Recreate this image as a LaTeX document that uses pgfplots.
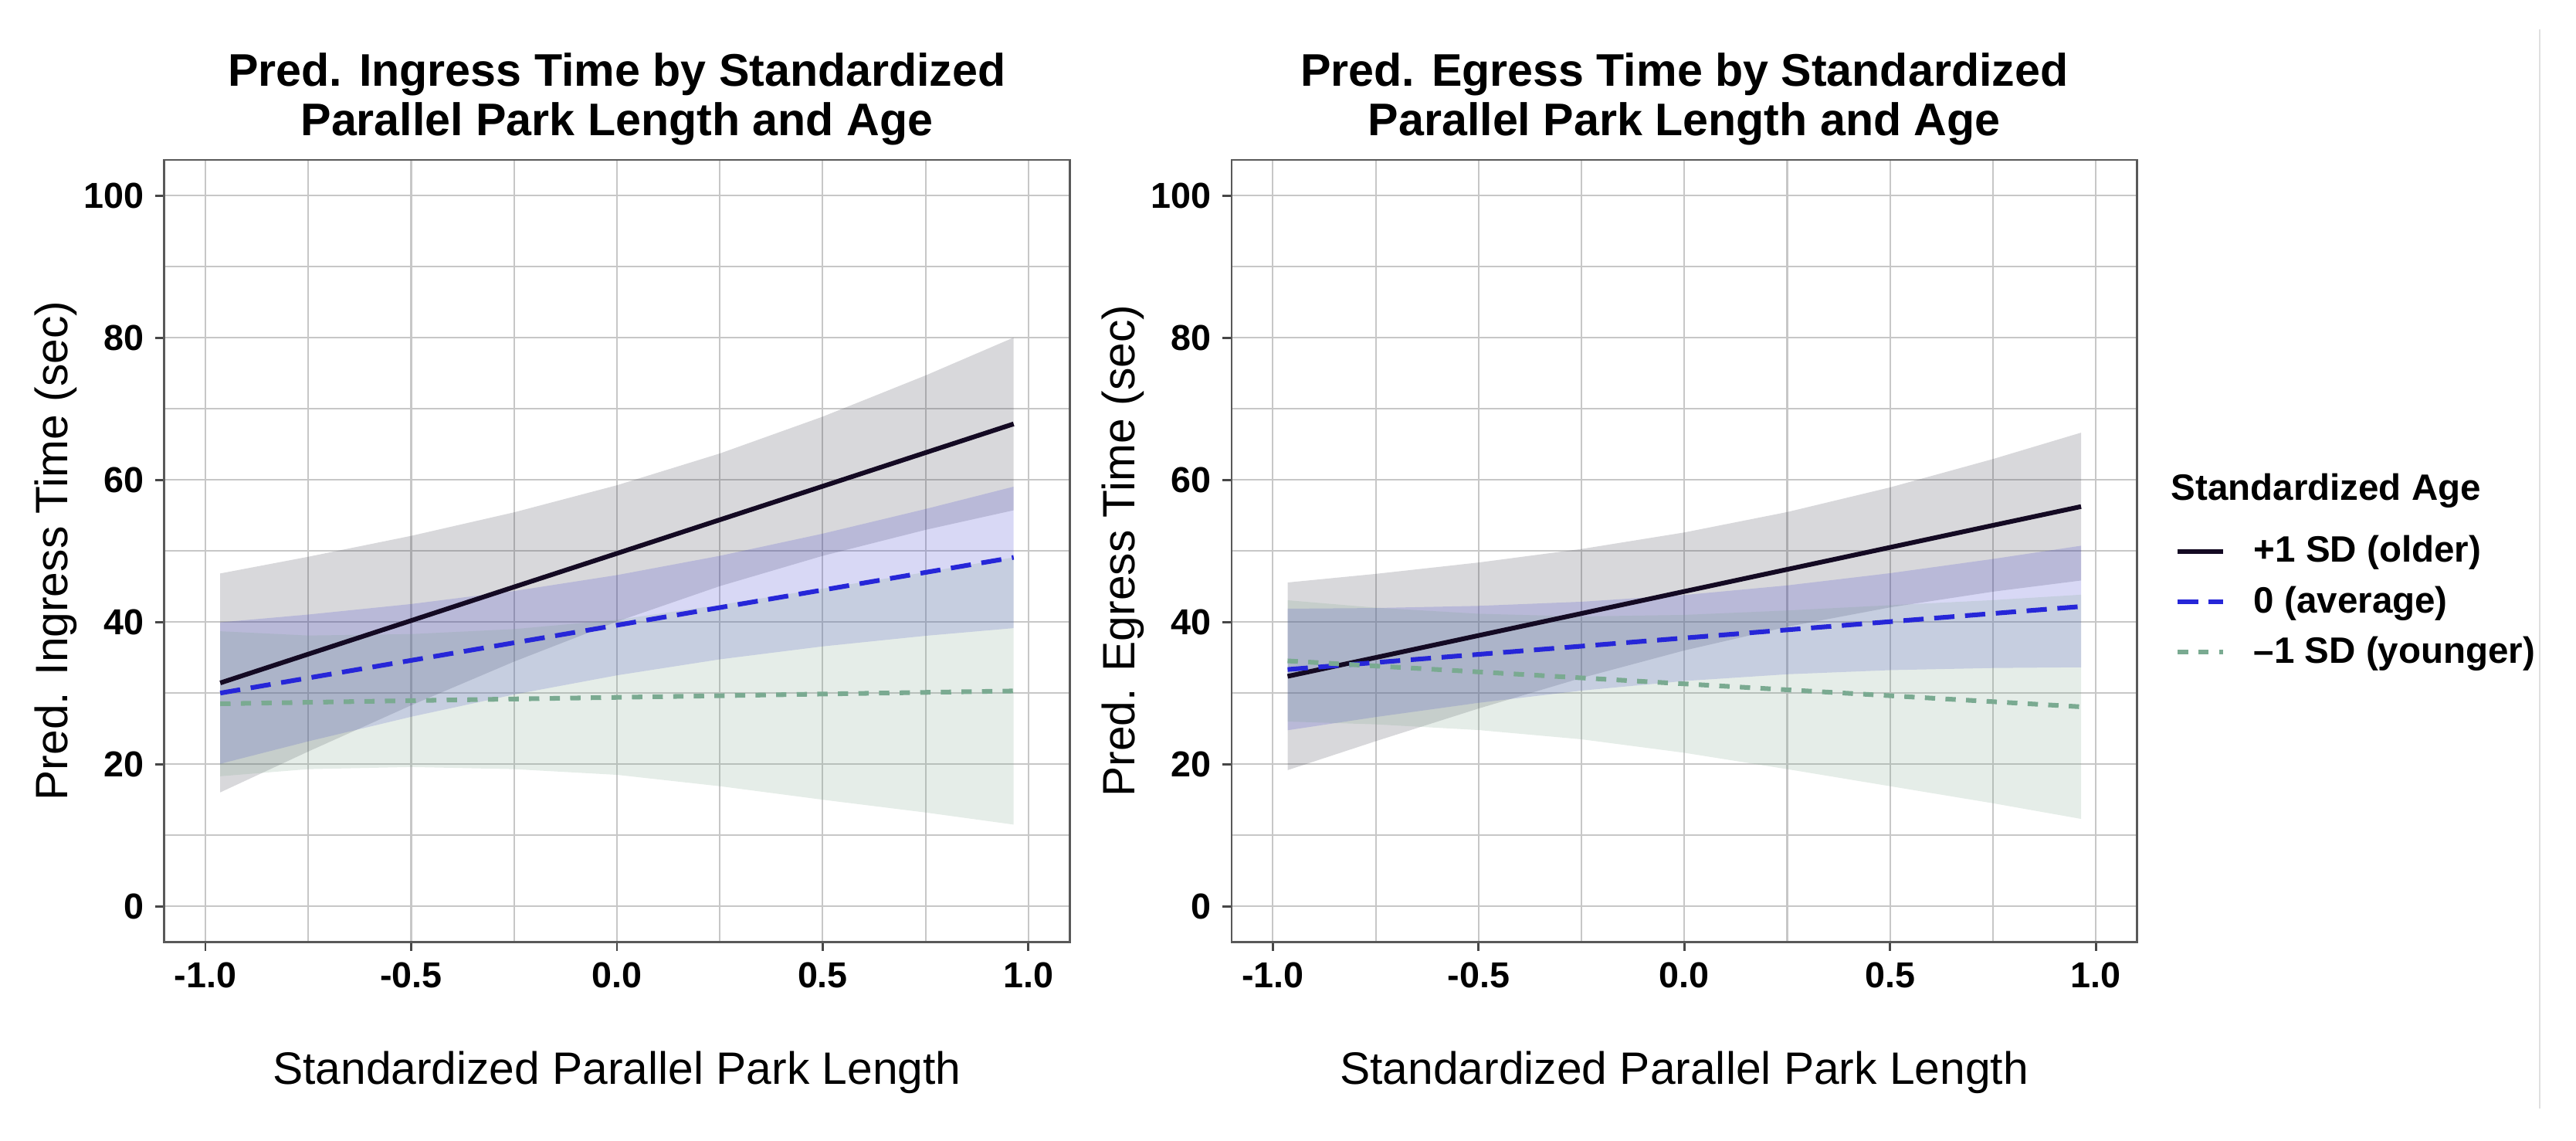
\documentclass[border=0pt]{standalone}
\usepackage{fontspec}
\setmainfont{Liberation Sans}
\usepackage{pgfplots}
\pgfplotsset{compat=1.18}
\usepackage{pgfplotstable}
\usepgfplotslibrary{fillbetween}
\definecolor{oldc}{RGB}{20,10,35}
\definecolor{avgc}{RGB}{38,38,216}
\definecolor{youc}{RGB}{122,170,145}
\definecolor{oldf}{RGB}{60,60,75}
\definecolor{avgf}{RGB}{60,60,205}
\definecolor{youf}{RGB}{125,165,140}

\pgfplotstableread{
x      cO     lO     uO     cA     lA     uA     cY     lY     uY
-0.964 31.43  16.03  46.83  30.00  20.05  39.95  28.50  18.3   38.7
-0.75  35.48  21.78  49.18  32.13  23.21  41.05  28.70  19.3   38.1
-0.5   40.20  28.28  52.12  34.60  26.67  42.53  28.94  19.6   38.3
-0.25  44.93  34.43  55.43  37.08  29.80  44.36  29.17  19.3   39.0
0      49.65  40.06  59.24  39.55  32.50  46.60  29.40  18.5   40.3
0.25   54.38  45.05  63.71  42.03  34.75  49.31  29.63  16.9   42.4
0.5    59.10  49.31  68.89  44.50  36.57  52.43  29.87  15.0   44.7
0.75   63.83  52.97  74.69  46.98  38.06  55.90  30.10  13.2   47.0
0.964  67.87  55.72  80.02  49.09  39.14  59.04  30.30  11.5   49.1
}\ingress

\pgfplotstableread{
x      cO     lO     uO     cA     lA     uA     cY     lY     uY
-0.964 32.36  19.16  45.56  33.32  24.77  41.87  34.53  26.0   43.06
-0.75  35.00  23.23  46.77  34.30  26.63  41.97  33.81  25.6   42.02
-0.5   38.10  27.83  48.37  35.45  28.63  42.27  32.98  24.8   41.16
-0.25  41.20  32.13  50.27  36.60  30.35  42.85  32.14  23.5   40.78
0      44.30  36.00  52.60  37.75  31.70  43.80  31.30  21.6   41.00
0.25   47.40  39.33  55.47  38.90  32.65  45.15  30.46  19.3   41.62
0.5    50.50  42.06  58.94  40.05  33.23  46.87  29.63  16.9   42.36
0.75   53.60  44.27  62.93  41.20  33.53  48.87  28.79  14.5   43.08
0.964  56.24  45.84  66.64  42.18  33.63  50.73  28.07  12.3   43.84
}\egress

\pgfplotsset{
  panel/.style={
    scale only axis, width=281.4pt, height=242.9pt,
    xmin=-1.1, xmax=1.1, ymin=-5, ymax=105,
    xtick={-1,-0.5,0,0.5,1}, xticklabels={-1.0,-0.5,0.0,0.5,1.0},
    ytick={0,20,40,60,80,100},
    minor xtick={-0.75,-0.25,0.25,0.75}, minor ytick={10,30,50,70,90},
    grid=both,
    major grid style={black!22, line width=0.5pt},
    minor grid style={black!22, line width=0.5pt},
    axis line style={black!65, line width=0.65pt},
    tick align=outside, xtick pos=bottom, ytick pos=left,
    major tick length=2.8pt, minor tick length=0pt,
    tick style={black!72, line width=0.7pt},
    /pgf/number format/assume math mode=true,
    ticklabel style={font=\bfseries\fontsize{11.2}{13}\selectfont},
    label style={font=\fontsize{14.1}{16}\selectfont},
    xlabel style={at={(axis description cs:0.5,-0.167)}, anchor=center},
    ylabel style={at={(axis description cs:-0.11994,0.5)}, anchor=center},
    title style={font=\bfseries\fontsize{14.2}{15.4}\selectfont, align=center, at={(axis description cs:0.5,1)}, anchor=south, inner sep=0pt, yshift=-1.6pt},
    xlabel={Standardized Parallel Park Length},
  },
  oldline/.style={oldc, line width=1.45pt},
  avgline/.style={avgc, line width=1.45pt, dash pattern=on 6.3pt off 3.3pt},
  youline/.style={youc, line width=1.45pt, dash pattern=on 3.2pt off 3.2pt},
}

\begin{document}
\begin{tikzpicture}

\begin{axis}[panel, at={(51.05pt,61.63pt)}, anchor=south west,
  title={Pred. Ingress Time by Standardized\\Parallel Park Length and Age},
  ylabel={Pred. Ingress Time (sec)}]
\addplot[oldline, forget plot] table[x=x,y=cO]{\ingress};
\addplot[avgline, forget plot] table[x=x,y=cA]{\ingress};
\addplot[youline, forget plot] table[x=x,y=cY]{\ingress};
\addplot[draw=none, name path=loO, forget plot] table[x=x,y=lO]{\ingress};
\addplot[draw=none, name path=upO, forget plot] table[x=x,y=uO]{\ingress};
\addplot[fill=oldf, fill opacity=0.2, draw=none, forget plot] fill between[of=loO and upO];
\addplot[draw=none, name path=loA, forget plot] table[x=x,y=lA]{\ingress};
\addplot[draw=none, name path=upA, forget plot] table[x=x,y=uA]{\ingress};
\addplot[fill=avgf, fill opacity=0.2, draw=none, forget plot] fill between[of=loA and upA];
\addplot[draw=none, name path=loY, forget plot] table[x=x,y=lY]{\ingress};
\addplot[draw=none, name path=upY, forget plot] table[x=x,y=uY]{\ingress};
\addplot[fill=youf, fill opacity=0.2, draw=none, forget plot] fill between[of=loY and upY];
\end{axis}

\begin{axis}[panel, at={(382.8pt,61.63pt)}, anchor=south west,
  title={Pred. Egress Time by Standardized\\Parallel Park Length and Age},
  ylabel={Pred. Egress Time (sec)},
  legend style={at={(axis description cs:1.0426,0.5277)}, anchor=north west, draw=none, fill=none, inner sep=0pt, outer sep=0pt, row sep=1.9pt, column sep=6.9pt, font=\bfseries\fontsize{11.4}{13}\selectfont},
  legend cell align=left,
  legend image code/.code={\draw[#1] (0pt,0pt) -- (14pt,0pt);}]
\addlegendimage{oldline}
\addlegendentry{+1 SD (older)}
\addlegendimage{avgline}
\addlegendentry{0 (average)}
\addlegendimage{youline}
\addlegendentry{–1 SD (younger)}
\addplot[oldline, forget plot] table[x=x,y=cO]{\egress};
\addplot[avgline, forget plot] table[x=x,y=cA]{\egress};
\addplot[youline, forget plot] table[x=x,y=cY]{\egress};
\addplot[draw=none, name path=loO, forget plot] table[x=x,y=lO]{\egress};
\addplot[draw=none, name path=upO, forget plot] table[x=x,y=uO]{\egress};
\addplot[fill=oldf, fill opacity=0.2, draw=none, forget plot] fill between[of=loO and upO];
\addplot[draw=none, name path=loA, forget plot] table[x=x,y=lA]{\egress};
\addplot[draw=none, name path=upA, forget plot] table[x=x,y=uA]{\egress};
\addplot[fill=avgf, fill opacity=0.2, draw=none, forget plot] fill between[of=loA and upA];
\addplot[draw=none, name path=loY, forget plot] table[x=x,y=lY]{\egress};
\addplot[draw=none, name path=upY, forget plot] table[x=x,y=uY]{\egress};
\addplot[fill=youf, fill opacity=0.2, draw=none, forget plot] fill between[of=loY and upY];
\end{axis}

\node[anchor=west, inner sep=0pt, font=\bfseries\fontsize{11.4}{13}\selectfont] at (674.6pt,201.8pt) {Standardized Age};
\draw[black!12, line width=0.5pt] (789.4pt,9.8pt) -- (789.4pt,345.1pt);
\pgfresetboundingbox
\path[use as bounding box] (0,0) rectangle (800.64pt,354.24pt);
\end{tikzpicture}
\end{document}
